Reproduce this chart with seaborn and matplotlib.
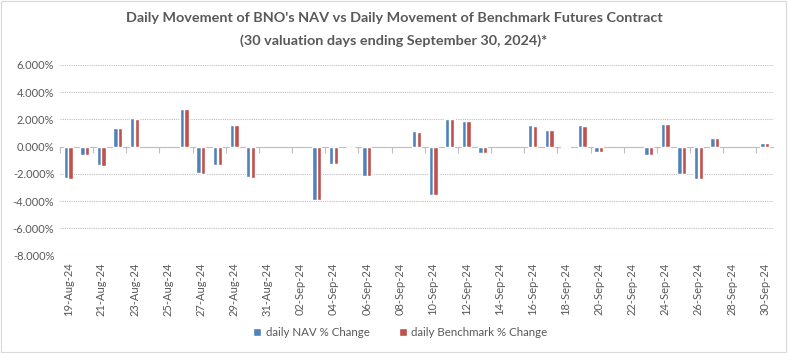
import numpy as np
import pandas as pd
import matplotlib
matplotlib.use('Agg')
import matplotlib.pyplot as plt
import seaborn as sns

# calendar days shown on the axis (weekends / holidays have no value)
dates = pd.date_range('2024-08-19', '2024-09-30', freq='D')

# daily % changes, keyed by date
nav_change = {
    '2024-08-19': -2.33, '2024-08-20': -0.60, '2024-08-21': -1.33, '2024-08-22': 1.38,
    '2024-08-23': 2.12, '2024-08-26': 2.76, '2024-08-27': -1.95, '2024-08-28': -1.33,
    '2024-08-29': 1.60, '2024-08-30': -2.24, '2024-09-03': -3.95, '2024-09-04': -1.31,
    '2024-09-05': 0.00, '2024-09-06': -2.12, '2024-09-09': 1.17, '2024-09-10': -3.52,
    '2024-09-11': 2.02, '2024-09-12': 1.88, '2024-09-13': -0.45, '2024-09-16': 1.60,
    '2024-09-17': 1.24, '2024-09-18': -0.08, '2024-09-19': 1.60, '2024-09-20': -0.38,
    '2024-09-23': -0.60, '2024-09-24': 1.67, '2024-09-25': -2.02, '2024-09-26': -2.38,
    '2024-09-27': 0.67, '2024-09-30': 0.24,
}
bench_change = {
    '2024-08-19': -2.40, '2024-08-20': -0.60, '2024-08-21': -1.40, '2024-08-22': 1.38,
    '2024-08-23': 2.05, '2024-08-26': 2.76, '2024-08-27': -2.02, '2024-08-28': -1.33,
    '2024-08-29': 1.60, '2024-08-30': -2.31, '2024-09-03': -3.95, '2024-09-04': -1.31,
    '2024-09-05': 0.00, '2024-09-06': -2.19, '2024-09-09': 1.10, '2024-09-10': -3.52,
    '2024-09-11': 2.02, '2024-09-12': 1.88, '2024-09-13': -0.45, '2024-09-16': 1.52,
    '2024-09-17': 1.24, '2024-09-18': -0.08, '2024-09-19': 1.52, '2024-09-20': -0.38,
    '2024-09-23': -0.60, '2024-09-24': 1.67, '2024-09-25': -2.02, '2024-09-26': -2.38,
    '2024-09-27': 0.60, '2024-09-30': 0.24,
}

series_names = ['daily NAV % Change', 'daily Benchmark % Change']
colors = ['#4F81BD', '#C0504D']
y_ticks = [-8, -6, -4, -2, 0, 2, 4, 6]

labels = [d.strftime('%d-%b-%y') for d in dates]
rows = []
for d, lab in zip(dates, labels):
    key = d.strftime('%Y-%m-%d')
    rows.append({'date': lab, 'series': series_names[0], 'value': nav_change.get(key, np.nan)})
    rows.append({'date': lab, 'series': series_names[1], 'value': bench_change.get(key, np.nan)})
df = pd.DataFrame(rows)

sns.set_style('white')
plt.rcParams['font.family'] = ['Lato', 'DejaVu Sans']
grey = '#595959'

fig = plt.figure(figsize=(7.88, 3.53), dpi=100)
ax = fig.add_axes([0.076, 0.276, 0.905, 0.540])

sns.barplot(data=df, x='date', y='value', hue='series', order=labels,
            hue_order=series_names, palette=colors, width=0.56, gap=0.06,
            saturation=1, errorbar=None, ax=ax, legend=True)

ax.set_xlim(-0.5, len(labels) - 0.5)
ax.set_ylim(-8, 6)
ax.set_yticks(y_ticks)
ax.set_yticklabels([f'{v:.3f}%' for v in y_ticks], color=grey, fontsize=8)
ax.set_xticks(range(0, len(labels), 2))
ax.set_xticklabels(labels[::2], rotation=90, color=grey, fontsize=8)
ax.tick_params(axis='both', length=0, pad=4)
ax.tick_params(axis='x', pad=5)
ax.set_xlabel('')
ax.set_ylabel('')

ax.yaxis.grid(True, color='#BFBFBF', linestyle=(0, (1, 1)), linewidth=0.8)
ax.set_axisbelow(True)
for s in ax.spines.values():
    s.set_visible(False)

# horizontal axis line at zero with tick marks every two days
zero_frac = (0 - (-8)) / (6 - (-8))
sec = ax.secondary_xaxis(zero_frac)
sec.set_xticks(np.arange(-0.5, len(labels), 2))
sec.set_xticklabels([])
sec.tick_params(axis='x', direction='in', length=4, color='#BFBFBF', width=0.8)
for s in sec.spines.values():
    s.set_color('#BFBFBF')
    s.set_linewidth(0.8)

handles, leg_labels = ax.get_legend_handles_labels()
ax.legend_.remove()
fig.legend(handles, leg_labels, loc='center', bbox_to_anchor=(0.508, 0.058), ncol=2,
           frameon=False, fontsize=8.3, labelcolor=grey, handlelength=0.7,
           handleheight=0.7, handletextpad=0.4, columnspacing=2.5)

fig.text(0.5, 0.948, "Daily Movement of BNO's NAV vs Daily Movement of Benchmark Futures Contract",
         ha='center', va='center', fontsize=10.4, fontweight='bold', color=grey)
fig.text(0.5, 0.884, "(30 valuation days ending September 30, 2024)*",
         ha='center', va='center', fontsize=10.4, fontweight='bold', color=grey)

# light outer border like the chart frame
fig.patches.append(plt.Rectangle((0.001, 0.002), 0.997, 0.996, transform=fig.transFigure,
                                 fill=False, edgecolor='#D9D9D9', linewidth=0.8))

fig.savefig('out.png', dpi=100)
